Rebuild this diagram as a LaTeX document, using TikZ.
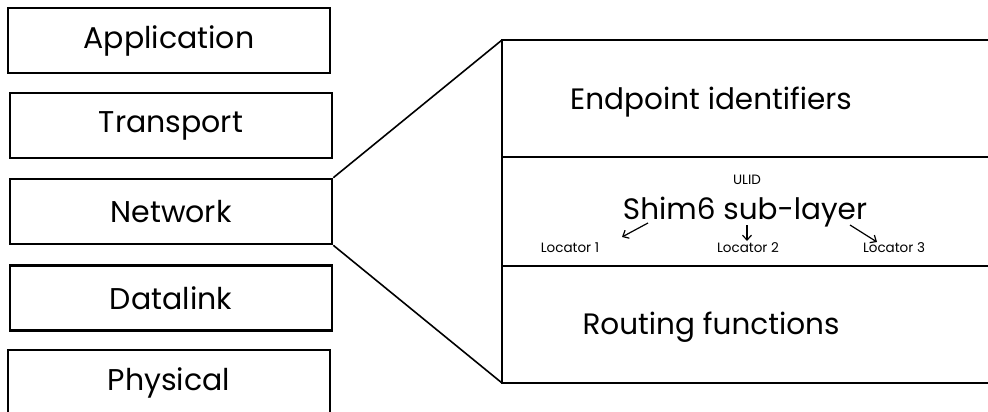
\documentclass[tikz,border=0pt]{standalone}
\usepackage{fontspec}
\setmainfont{Poppins}
\usetikzlibrary{arrows.meta}
\tikzset{
  layerbox/.style={draw, line width=2.6pt, minimum width=322pt, minimum height=65pt, inner sep=0pt, font=\fontsize{30}{34}\selectfont},
  bigtext/.style={font=\fontsize{29.5}{33}\selectfont, inner sep=0pt},
  smalltext/.style={font=\fontsize{13.5}{16}\selectfont, inner sep=0pt},
  panelline/.style={line width=2.6pt},
  fanline/.style={line width=1.6pt},
  locarrow/.style={line width=1.2pt, -{Straight Barb[length=5pt, width=9pt]}}
}
\begin{document}
\begin{tikzpicture}[x=1pt, y=-1pt]
\useasboundingbox (0,0) rectangle (988,412);

% OSI stack on the left
\node[layerbox] (app) at (169,40.5) {Application};
\node[layerbox] (trans) at (171,125.5) {Transport};
\node[layerbox] (net) at (171,211.5) {Network};
\node[layerbox] (dl) at (171,298) {Datalink};
\node[layerbox, draw=none] (phy) at (169,383) {Physical};
\draw[panelline] (8,414) -- (8,350) -- (330,350) -- (330,414);

% expanded network layer on the right
\coordinate (ptop) at (502,40);
\coordinate (pbot) at (502,383);
\draw[panelline] (990,40) -- (ptop) -- (pbot) -- (990,383);
\draw[panelline] (502,157) -- (990,157);
\draw[panelline] (502,266) -- (990,266);

% zoom lines
\draw[fanline] (net.north east) -- (ptop);
\draw[fanline] (net.south east) -- (pbot);

\node[bigtext] (eid) at (711,102) {Endpoint identifiers};
\node[bigtext] (shim) at (745,212) {Shim6 sub-layer};
\node[bigtext] (route) at (711,327) {Routing functions};

\node[smalltext] (ulid) at (747,180) {ULID};
\node[smalltext] (loc1) at (570,248) {Locator 1};
\node[smalltext] (loc2) at (748,248) {Locator 2};
\node[smalltext] (loc3) at (894,248) {Locator 3};

\coordinate (s1) at (648,223);
\coordinate (s2) at (747,225);
\coordinate (s3) at (850,225);
\draw[locarrow] (s1) -- (622,237);
\draw[locarrow] (s2) -- (747,241);
\draw[locarrow] (s3) -- (877,242);
\end{tikzpicture}
\end{document}
